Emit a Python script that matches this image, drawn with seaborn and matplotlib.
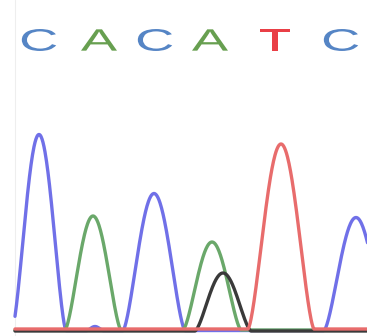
import numpy as np
import pandas as pd
import seaborn as sns
import matplotlib
matplotlib.use("Agg")
import matplotlib.pyplot as plt
from matplotlib.textpath import TextPath
from matplotlib.patches import PathPatch
from matplotlib.font_manager import FontProperties
from matplotlib.transforms import Affine2D

# base calls shown above the trace
bases = ["C", "A", "C", "A", "T", "C"]
base_pos = [39, 99, 155, 210, 275, 341]

# peaks: channel, centre (scan), height, half base width
peak_channel = ["C", "A", "C", "A", "G", "T", "C", "C"]
peak_centre = [39, 93, 154, 212, 223, 281, 356, 95]
peak_height = [196, 114, 137, 88, 58, 185, 113, 4]
peak_halfbase = [27, 28, 31, 29, 28, 33, 32, 8]

# small baseline offsets so the stacked baselines look thick
base_offset = {"C": 0.5, "A": 1.0, "G": 0.0, "T": 2.0}

channel_colors = {"C": "#7070e8", "A": "#6aa86a", "G": "#3a3a3a", "T": "#e86c6c"}
letter_colors = {"C": "#4c7ec2", "A": "#5f9a46", "T": "#e8343c", "G": "#222222"}

scan = np.arange(15, 368, 0.5)
rows = []
for ch in ["C", "A", "G", "T"]:
    signal = np.full_like(scan, base_offset[ch], dtype=float)
    for c, mu, h, half in zip(peak_channel, peak_centre, peak_height, peak_halfbase):
        if c == ch:
            theta = np.clip((scan - mu) / half, -1, 1) * np.pi / 2
            signal += h * np.cos(theta) ** 1.5
    rows.append(pd.DataFrame({"scan": scan, "signal": signal, "base": ch}))
df = pd.concat(rows, ignore_index=True)

sns.set_style("white")
fig = plt.figure(figsize=(3.67, 3.36), dpi=100)
ax = fig.add_axes([0, 0, 1, 1])

sns.lineplot(data=df, x="scan", y="signal", hue="base",
             hue_order=["C", "A", "G", "T"], palette=channel_colors,
             linewidth=2.4, legend=False, ax=ax, estimator=None, sort=False)

# faint left border of the trace window
ax.axvline(15, color="#eeeeee", linewidth=0.8, zorder=0)

# wide, stretched letters like the trace viewer draws them
fp = FontProperties(family="Liberation Sans")
for b, x in zip(bases, base_pos):
    tp = TextPath((0, 0), b, size=31, prop=fp)
    ext = tp.get_extents()
    tr = (Affine2D()
          .translate(-(ext.x0 + ext.x1) / 2, -(ext.y0 + ext.y1) / 2)
          .scale(1.75, 1.0)
          .translate(x, 331 - 40))
    patch = PathPatch(tr.transform_path(tp), facecolor=letter_colors[b],
                      edgecolor="none", alpha=0.95)
    ax.add_patch(patch)

ax.set_xlim(0, 367)
ax.set_ylim(-5, 331)
ax.set_axis_off()

fig.savefig("out.png", dpi=100)
